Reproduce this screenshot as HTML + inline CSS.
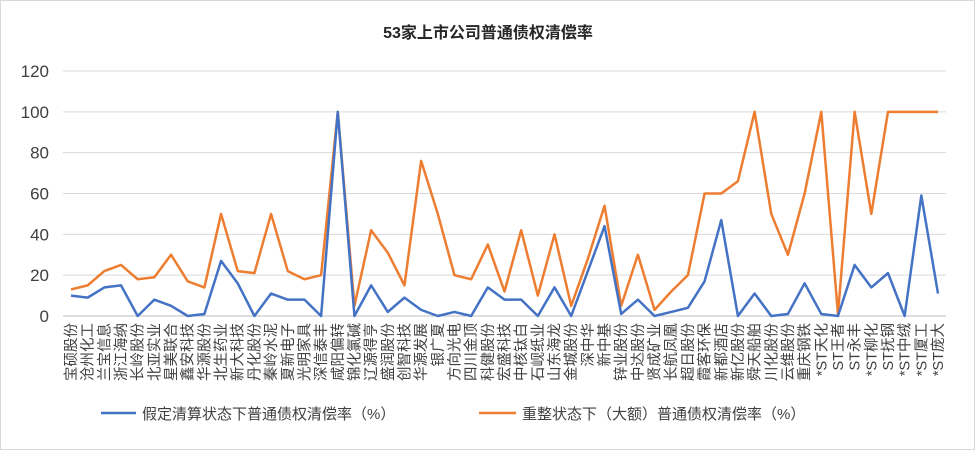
<!DOCTYPE html>
<html><head><meta charset="utf-8"><style>
body{margin:0;background:#fff;font-family:"Liberation Sans","Noto Sans CJK SC",sans-serif;}
#wrap{position:relative;width:975px;height:450px;overflow:hidden;border:1px solid #d9d9d9;box-sizing:border-box;}
</style></head><body>
<div id="wrap">
<svg id="svg" width="975" height="450" style="position:absolute;left:0;top:0">
<text x="487" y="37" text-anchor="middle" font-size="16" font-weight="bold" fill="#262626" font-family="Liberation Sans, Noto Sans CJK SC, sans-serif">53家上市公司普通债权清偿率</text>
<g id="grid"></g><g id="lines"></g><g id="xlabels"></g>
<line x1="100" y1="412" x2="135" y2="412" stroke="#4472C4" stroke-width="2.5"/>
<text x="141" y="418" font-size="15" fill="#404040" font-family="Liberation Sans, Noto Sans CJK SC, sans-serif">假定清算状态下普通债权清偿率（%）</text>
<line x1="478" y1="412" x2="515" y2="412" stroke="#ED7D31" stroke-width="2.5"/>
<text x="521" y="418" font-size="15" fill="#404040" font-family="Liberation Sans, Noto Sans CJK SC, sans-serif">重整状态下（大额）普通债权清偿率（%）</text>
</svg>
</div>
<script>
const categories=["宝硕股份","沧州化工","兰宝信息","浙江海纳","长岭股份","北亚实业","星美联合","鑫安科技","华源股份","北生药业","新大科技","丹化股份","秦岭水泥","夏新电子","光明家具","深信泰丰","咸阳偏转","锦化氯碱","辽源得亨","盛润股份","创智科技","华源发展","银广夏","方向光电","四川金顶","科健股份","宏盛科技","中核钛白","石岘纸业","山东海龙","金城股份","深中华","新中基","锌业股份","中达股份","贤成矿业","长航凤凰","超日股份","霞客环保","新都酒店","新亿股份","舜天船舶","川化股份","云维股份","重庆钢铁","*ST天化","ST王者","ST永丰","*ST柳化","ST抚钢","*ST中绒","*ST厦工","*ST庞大"];
const liquidation=[10,9,14,15,0,8,5,0,1,27,16,0,11,8,8,0,100,0,15,2,9,3,0,2,0,14,8,8,0,14,0,22,44,1,8,0,2,4,17,47,0,11,0,1,16,1,0,25,14,21,0,59,11];
const restructuring=[13,15,22,25,18,19,30,17,14,50,22,21,50,22,18,20,100,5,42,31,15,76,50,20,18,35,12,42,10,40,5,28,54,5,30,3,12,20,60,60,66,100,50,30,60,100,1,100,50,100,100,100,100];
const yTicks=[0,20,40,60,80,100,120];
const x0=70,x1=937,yBase=315,yTop=70,yMax=120;
const xs=i=>x0+i*(x1-x0)/(categories.length-1);
const ys=v=>yBase-v*(yBase-yTop)/yMax;
const NS="http://www.w3.org/2000/svg";
const grid=document.getElementById('grid');
yTicks.forEach(t=>{
 const l=document.createElementNS(NS,'line');
 l.setAttribute('x1',62);l.setAttribute('x2',945);l.setAttribute('y1',ys(t));l.setAttribute('y2',ys(t));
 l.setAttribute('stroke',t===0?'#bfbfbf':'#d9d9d9');l.setAttribute('stroke-width',1);
 
 
 grid.appendChild(l);
 const tx=document.createElementNS(NS,'text');
 tx.setAttribute('x',48);tx.setAttribute('y',ys(t)+6);tx.setAttribute('text-anchor','end');
 tx.setAttribute('font-size','17');tx.setAttribute('fill','#404040');tx.setAttribute('font-family','Liberation Sans, sans-serif');
 tx.textContent=t;
 
 
 grid.appendChild(tx);
});
const lines=document.getElementById('lines');
[[restructuring,'#ED7D31','restructuring-line'],[liquidation,'#4472C4','liquidation-line']].forEach(([d,c,n])=>{
 const p=document.createElementNS(NS,'polyline');
 p.setAttribute('points',d.map((v,i)=>xs(i)+','+ys(v)).join(' '));
 p.setAttribute('fill','none');p.setAttribute('stroke',c);p.setAttribute('stroke-width','2.5');p.setAttribute('stroke-linejoin','round');
 
 
 lines.appendChild(p);
});
const xg=document.getElementById('xlabels');
categories.forEach((c,i)=>{
 const t=document.createElementNS(NS,'text');
 const x=xs(i)+5,y=322;
 t.setAttribute('x',x);t.setAttribute('y',y);
 t.setAttribute('transform','rotate(-90 '+x+' '+y+')');
 t.setAttribute('text-anchor','end');
 t.setAttribute('font-size','14.5');t.setAttribute('fill','#404040');
 t.setAttribute('font-family','Liberation Sans, Noto Sans CJK SC, sans-serif');
 t.textContent=c;
 
 
 xg.appendChild(t);
});
</script>
</body></html>
